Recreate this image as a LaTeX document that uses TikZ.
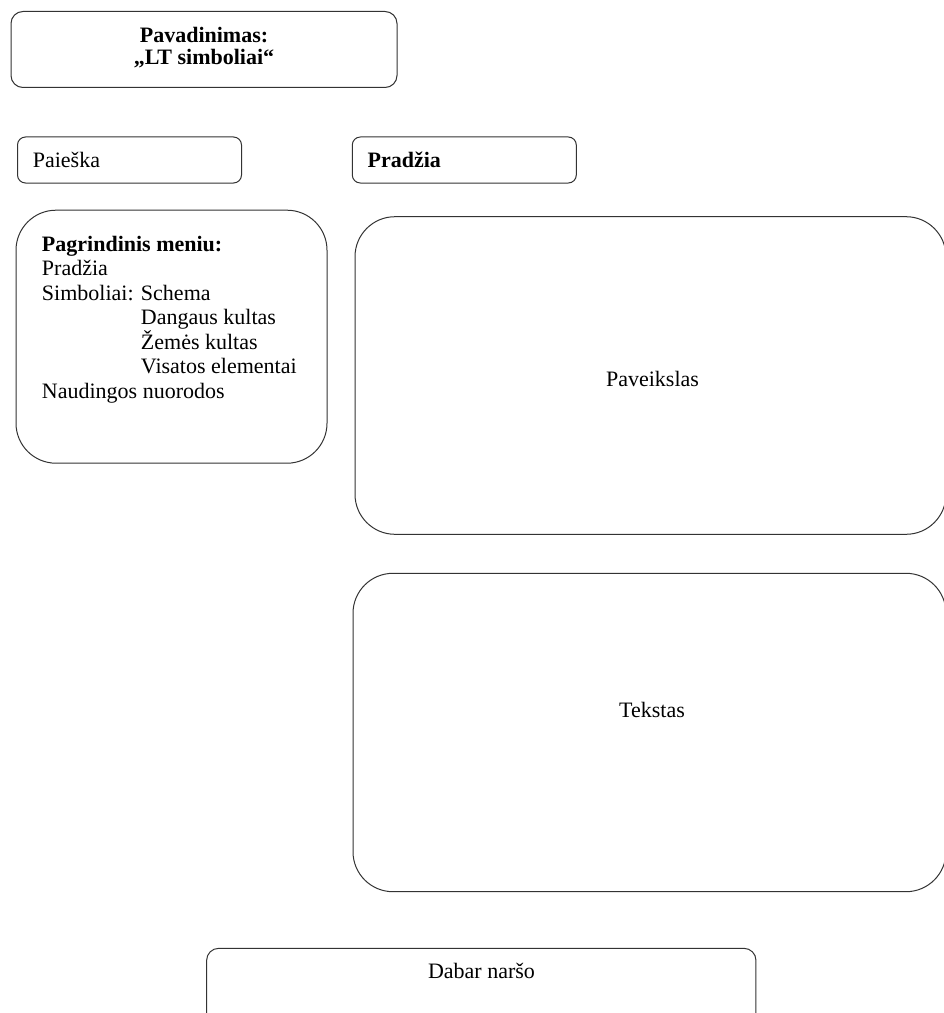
\documentclass[tikz,border=0pt]{standalone}
\usepackage{fontspec}
\setmainfont{Liberation Serif}
\usetikzlibrary{positioning}

\begin{document}
\begin{tikzpicture}[
  x=0.75pt, y=-0.75pt,
  panel/.style={draw=black!80, line width=0.75pt, inner sep=0pt, rounded corners=6pt},
  bigpanel/.style={panel, rounded corners=30pt},
  txt/.style={font=\fontsize{16.5}{18.4}\selectfont, inner sep=0pt}
]
  \useasboundingbox (0,0) rectangle (944,1013);

  % header
  \node[panel, rounded corners=9pt, minimum width=289.5pt, minimum height=57pt] (title) at (204,49.5) {};
  \node[txt, font=\fontsize{16.5}{16.2}\selectfont\bfseries, align=center, anchor=north] (title-text) at (204,27) {Pavadinimas:\\„LT simboliai“};

  % search and start
  \node[panel, txt, minimum width=168pt, minimum height=34.5pt, text width=145pt, inner xsep=11.5pt, align=left] (search) at (129.5,160) {Paieška};
  \node[panel, txt, font=\fontsize{16.5}{18.4}\selectfont\bfseries, minimum width=168pt, minimum height=34.5pt, text width=145pt, inner xsep=11.5pt, align=left] (start) at (464.3,160) {Pradžia};

  % main menu
  \node[bigpanel, minimum width=233.25pt, minimum height=189.75pt] (menu) at (171.5,336.7) {};
  \node[txt, align=left, anchor=north west] (menu-text) at (41.7,235.5) {\textbf{Pagrindinis meniu:}\\
    Pradžia\\
    Simboliai: Schema\\
    \phantom{Simboliai: }Dangaus kultas\\
    \phantom{Simboliai: }Žemės kultas\\
    \phantom{Simboliai: }Visatos elementai\\
    Naudingos nuorodos};

  % content
  \node[bigpanel, minimum width=443.25pt, minimum height=238.2pt] (picture) at (650.5,375.5) {};
  \node[txt, anchor=base] (picture-text) at (652.5,386) {Paveikslas};
  \node[bigpanel, minimum width=444.75pt, minimum height=238.8pt] (body) at (649.5,732.5) {};
  \node[txt, anchor=base] (body-text) at (652,717) {Tekstas};

  % footer
  \node[panel, rounded corners=9pt, minimum width=412pt, minimum height=68.5pt] (footer) at (481.3,994) {};
  \node[txt, anchor=base] (footer-text) at (481.5,978) {Dabar naršo};
\end{tikzpicture}
\end{document}
